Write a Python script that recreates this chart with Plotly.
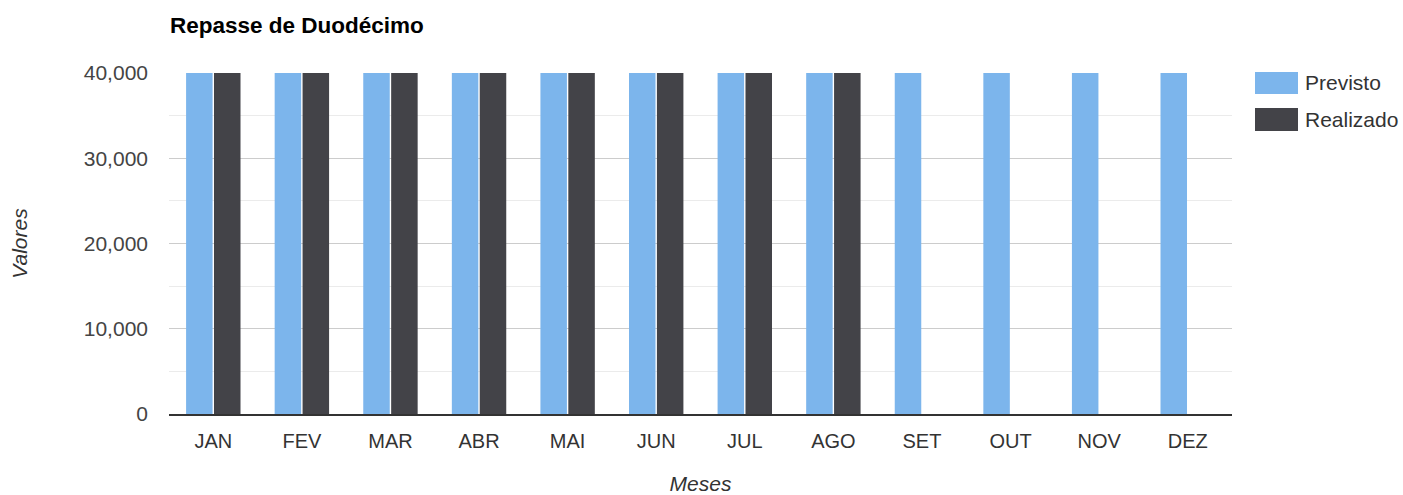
import plotly.graph_objects as go

meses = ["JAN", "FEV", "MAR", "ABR", "MAI", "JUN", "JUL", "AGO", "SET", "OUT", "NOV", "DEZ"]
previsto = [40000, 40000, 40000, 40000, 40000, 40000, 40000, 40000, 40000, 40000, 40000, 40000]
realizado = [40000, 40000, 40000, 40000, 40000, 40000, 40000, 40000, None, None, None, None]
series_names = ["Previsto", "Realizado"]
colors = ["#7cb5ec", "#434348"]

W, H = 1403, 495
L, R, T, B = 169, 1232, 73, 414
FONT = "Liberation Sans, Arial, sans-serif"

fig = go.Figure()
fig.add_trace(go.Bar(x=meses, y=previsto, name=series_names[0], marker=dict(color=colors[0], line=dict(width=0))))
fig.add_trace(go.Bar(x=meses, y=realizado, name=series_names[1], marker=dict(color=colors[1], line=dict(width=0))))

def px_x(p):
    return (p - L) / (R - L)

def px_y(p):
    return (B - p) / (B - T)

# manual legend (large swatches like the reference)
legend_rows = [(72, 94), (108, 131)]
shapes = []
annotations = []
for name, col, (y0, y1) in zip(series_names, colors, legend_rows):
    shapes.append(dict(type="rect", xref="paper", yref="paper",
                       x0=px_x(1255), x1=px_x(1298), y0=px_y(y1), y1=px_y(y0),
                       fillcolor=col, line=dict(width=0)))
    annotations.append(dict(text=name, xref="paper", yref="paper",
                            x=px_x(1303), y=px_y((y0 + y1) / 2), xanchor="left", yanchor="middle",
                            showarrow=False, font=dict(family=FONT, size=21, color="#333333")))

fig.update_layout(
    width=W, height=H,
    margin=dict(l=L, r=W - R, t=T, b=H - B, autoexpand=False),
    paper_bgcolor="white", plot_bgcolor="white",
    showlegend=False,
    barmode="group", bargap=0.37, bargroupgap=0.05,
    title=dict(text="Repasse de Duodécimo", x=170 / W, xanchor="left", y=1 - 25 / H, yanchor="middle",
               font=dict(family=FONT, size=22.5, color="#000000", weight="bold")),
    font=dict(family=FONT, size=21, color="#444444"),
    shapes=shapes,
    annotations=annotations,
    hovermode=False,
)
fig.update_xaxes(
    showline=True, linecolor="#333333", linewidth=1.5,
    showgrid=False, ticks="", ticklabelstandoff=8,
    tickfont=dict(family=FONT, size=20, color="#333333"),
    title=dict(text="Meses", standoff=28, font=dict(family=FONT, size=21, color="#333333", style="italic")),
    automargin=False,
)
fig.update_yaxes(
    range=[0, 40000], dtick=10000, tickformat=",d",
    showgrid=True, gridcolor="#cccccc", gridwidth=1,
    minor=dict(dtick=5000, showgrid=True, gridcolor="#ebebeb", gridwidth=1),
    zeroline=False, showline=False, ticks="", ticklabelstandoff=20,
    tickfont=dict(family=FONT, size=21, color="#444444"),
    title=dict(text="Valores", standoff=50, font=dict(family=FONT, size=21, color="#333333", style="italic")),
    automargin=False,
)

fig.write_html("out.html", config={"displayModeBar": False},
               post_script="document.body.style.margin='0';")
